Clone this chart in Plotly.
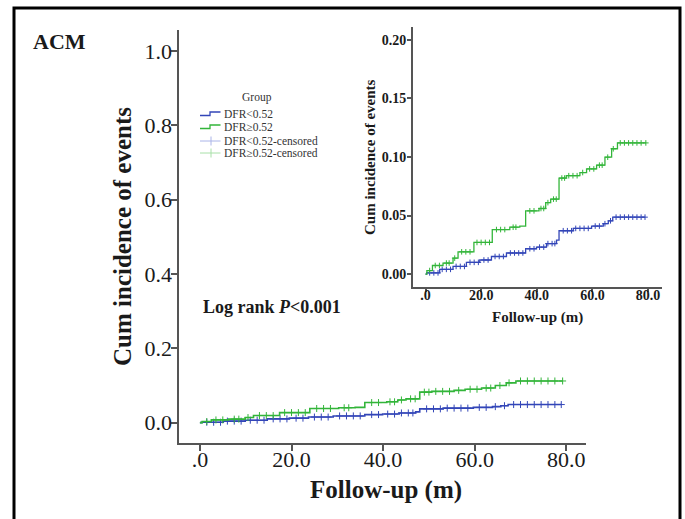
import numpy as np
import plotly.graph_objects as go

W, H = 685, 519
def px(x): return x / W
def py(y): return 1 - y / H

# ---- data ----
low_t = [0, 0.4, 5.1, 9.9, 14.7, 19.5, 23.7, 29.1, 36.0, 39.9, 43.5, 47.1, 48.0, 53.1, 59.7, 63.9, 65.7, 67.3]
low_v = [0, 0.001, 0.004, 0.0065, 0.010, 0.012, 0.015, 0.018, 0.0216, 0.023, 0.026, 0.029, 0.037, 0.039, 0.041, 0.043, 0.0455, 0.0486]
low_end = 78.9
high_t = [0, 0.5, 2.5, 6.3, 9.9, 11.7, 17.4, 24.0, 30.3, 33.9, 36.0, 40.8, 43.2, 45.0, 48.0, 50.6, 55.5, 57.9, 61.5, 64.5, 66.9, 69.0]
high_v = [0, 0.003, 0.0073, 0.0094, 0.0136, 0.019, 0.027, 0.038, 0.040, 0.041, 0.054, 0.056, 0.061, 0.064, 0.082, 0.084, 0.0867, 0.0898, 0.093, 0.0998, 0.107, 0.112]
high_end = 79.2
low_cens = [1.5, 3, 4.5, 6, 7.5, 9, 11, 12.5, 14, 16, 17.5, 19, 21, 22.5, 25, 26.5, 28, 30.5, 32, 33.5, 35, 37.5, 39, 41, 42.5, 44, 45.5, 46.5,
            49.5, 51, 52.5, 54, 55.5, 57, 58.5, 61, 62.5, 64.5, 66.5, 68.5, 70, 71.5, 73, 74.5, 76, 77.5, 78.9]
high_cens = [1.5, 3.5, 5, 7.5, 8.5, 10.5, 13, 14.5, 16, 18.5, 20, 21.5, 23, 25.5, 27, 28.5, 31.5, 32.5, 37.5, 39, 41.5, 42.5, 44, 46, 47,
             49, 50, 51.5, 53, 54.5, 56.5, 59, 60.5, 62.5, 63.5, 65.5, 67.5, 70, 71.5, 73, 74.5, 76, 77.5, 79.2]

x_tickvals = [0, 20, 40, 60, 80]
x_ticktext = [".0", "20.0", "40.0", "60.0", "80.0"]
main_y_tickvals = [0, 0.2, 0.4, 0.6, 0.8, 1.0]
main_y_ticktext = ["0.0", "0.2", "0.4", "0.6", "0.8", "1.0"]
inset_y_tickvals = [0, 0.05, 0.10, 0.15, 0.20]
inset_y_ticktext = ["0.00", "0.05", "0.10", "0.15", "0.20"]

BLUE = "#3346b8"
GREEN = "#33b53a"
LBLUE = "#aab4e8"
LGREEN = "#a8e0a8"
SERIF = "Liberation Serif"
TXT = "#1a1a1a"
AX = "#555555"


def step_xy(t, v, end):
    return list(t) + [end], list(v) + [v[-1]]


def cens_y(t, v, c):
    idx = np.searchsorted(np.array(t), np.array(c), side="right") - 1
    return [v[i] for i in idx]


fig = go.Figure()
for xa, ya, lw, ms in [("x", "y", 1.6, 5), ("x2", "y2", 1.3, 4)]:
    for t, v, end, cens, col in [(low_t, low_v, low_end, low_cens, BLUE),
                                 (high_t, high_v, high_end, high_cens, GREEN)]:
        xs, ys = step_xy(t, v, end)
        fig.add_trace(go.Scatter(x=xs, y=ys, mode="lines", line=dict(color=col, width=lw, shape="hv"),
                                 xaxis=xa, yaxis=ya, showlegend=False, hoverinfo="skip"))
        fig.add_trace(go.Scatter(x=cens, y=cens_y(t, v, cens), mode="markers",
                                 marker=dict(symbol="cross-thin", size=ms, line=dict(color=col, width=1)),
                                 xaxis=xa, yaxis=ya, showlegend=False, hoverinfo="skip"))

axis_common = dict(showline=True, linecolor=AX, linewidth=2, ticks="outside", ticklen=6, tickcolor=AX,
                   tickwidth=1.5, showgrid=False, zeroline=False, mirror=False)

fig.update_layout(
    width=W, height=H, margin=dict(l=0, r=0, t=0, b=0),
    paper_bgcolor="white", plot_bgcolor="white", showlegend=False,
    font=dict(family=SERIF, color=TXT),
    xaxis=dict(domain=[px(179.3), px(586)], range=[-4.5, 84.3], tickvals=x_tickvals, ticktext=x_ticktext,
               tickfont=dict(size=22, family=SERIF, color=TXT), anchor="y", ticklabelstandoff=-10,
               **axis_common),
    yaxis=dict(domain=[py(442.7), py(30)], range=[-0.054, 1.056], tickvals=main_y_tickvals,
               ticktext=main_y_ticktext, tickfont=dict(size=22, family=SERIF, color=TXT), anchor="x",
               ticklabelstandoff=-5, **axis_common),
    xaxis2=dict(domain=[px(412.7), px(661.7)], range=[-4.6, 84.9], tickvals=x_tickvals, ticktext=x_ticktext,
                tickfont=dict(size=14, family=SERIF, color=TXT, weight="bold"), anchor="y2",
                ticklabelstandoff=-9, **{**axis_common, "linewidth": 1.5, "ticklen": 4}),
    yaxis2=dict(domain=[py(286.7), py(27)], range=[-0.0108, 0.211], tickvals=inset_y_tickvals,
                ticktext=inset_y_ticktext, tickfont=dict(size=14, family=SERIF, color=TXT, weight="bold"),
                anchor="x2", ticklabelstandoff=-2, **{**axis_common, "linewidth": 1.5, "ticklen": 4}),
)

ann = []
def A(text, x, y, size, xanchor="center", bold=True, angle=0, color=TXT, yanchor="middle"):
    ann.append(dict(text=text, x=px(x), y=py(y), xref="paper", yref="paper", showarrow=False,
                    xanchor=xanchor, yanchor=yanchor, textangle=angle,
                    font=dict(family=SERIF, size=size, color=color, weight="bold" if bold else "normal")))

A("ACM", 31, 41, 22, xanchor="left")
A("Cum incidence of events", 123, 237, 25, angle=-90)
A("Follow-up (m)", 386, 490, 25)
A("Log rank <i>P</i>&lt;0.001", 201, 307, 18, xanchor="left")
A("Cum incidence of events", 370, 157, 15, angle=-90)
A("Follow-up (m)", 537, 317, 15)
# legend
A("Group", 257, 97, 11.5, bold=False, color="#333333")
leg_rows = [("DFR&lt;0.52", 114), ("DFR≥0.52", 127), ("DFR&lt;0.52-censored", 141), ("DFR≥0.52-censored", 153)]
for txt, yy in leg_rows:
    A(txt, 221.5, yy, 11.5, xanchor="left", bold=False, color="#333333")
fig.update_layout(annotations=ann)

shapes = []
# frame
shapes.append(dict(type="rect", xref="paper", yref="paper", x0=px(14), x1=px(680), y0=py(8), y1=py(560),
                   line=dict(color="black", width=3), fillcolor="rgba(0,0,0,0)", layer="above"))
# legend icons
for (txt, yy), col, kind in zip(leg_rows, [BLUE, GREEN, LBLUE, LGREEN], ["step", "step", "cross", "cross"]):
    if kind == "step":
        path = "M {} {} H {} V {} H {}".format(px(200), py(yy + 1.5), px(210), py(yy - 2), px(220.5))
        shapes.append(dict(type="path", xref="paper", yref="paper", path=path,
                           line=dict(color=col, width=1.3)))
    else:
        shapes.append(dict(type="line", xref="paper", yref="paper", x0=px(200), x1=px(220.5),
                           y0=py(yy), y1=py(yy), line=dict(color=col, width=1)))
        shapes.append(dict(type="line", xref="paper", yref="paper", x0=px(211), x1=px(211),
                           y0=py(yy - 4.5), y1=py(yy + 4.5), line=dict(color=col, width=1)))
fig.update_layout(shapes=shapes)

fig.write_html("out.html", config={"displayModeBar": False},
               post_script="document.body.style.margin='0';")
